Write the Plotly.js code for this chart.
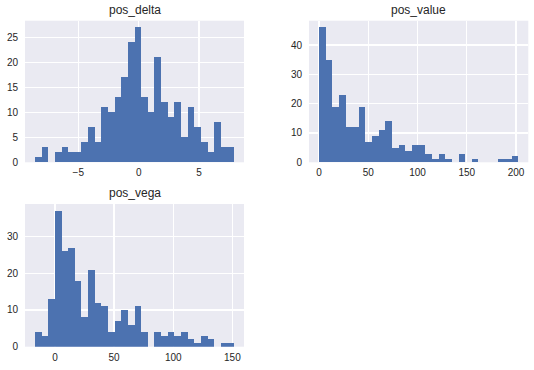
<!DOCTYPE html>
<html>
<head>
<meta charset="utf-8">
<script src="https://cdn.plot.ly/plotly-3.0.1.min.js"></script>
<style>html,body{margin:0;padding:0;background:#fff;}#chart{width:534px;height:370px;}</style>
</head>
<body>
<div id="chart"></div>
<script>
// Histogram counts (30 bins each)
const deltaCounts = [1, 3, 0, 2, 3, 2, 2, 4, 7, 4, 11, 10, 13, 17, 24, 27, 13, 10, 21, 12, 9, 12, 5, 11, 7, 4, 2, 8, 3, 3];
const valueCounts = [46, 35, 19, 23, 12, 12, 19, 7, 9, 11, 14, 5, 6, 4, 6, 6, 3, 1, 3, 1, 0, 3, 0, 1, 0, 0, 0, 1, 1, 2];
const vegaCounts  = [4, 3, 13, 37, 26, 27, 18, 8, 21, 12, 11, 4, 7, 10, 6, 11, 4, 0, 4, 3, 4, 3, 4, 2, 1, 3, 2, 0, 1, 1];
// data extent (min, max) of each column
const deltaExtent = [-8.59, 7.90];
const valueExtent = [0.0, 202.3];
const vegaExtent  = [-16.9, 151.4];
const titles = ["pos_delta", "pos_value", "pos_vega"];
const deltaTicks = [-5, 0, 5];
const valueTicks = [0, 50, 100, 150, 200];
const vegaTicks  = [0, 50, 100, 150];
const deltaYTicks = [0, 5, 10, 15, 20, 25];
const valueYTicks = [0, 10, 20, 30, 40];
const vegaYTicks  = [0, 10, 20, 30];

function binTrace(counts, ext, xa, ya) {
  const n = counts.length, w = (ext[1] - ext[0]) / n;
  const centers = counts.map((_, i) => ext[0] + (i + 0.5) * w);
  return {type: 'bar', x: centers, y: counts, width: w, xaxis: xa, yaxis: ya,
          marker: {color: '#4C72B0', line: {width: 0}}, hoverinfo: 'x+y', showlegend: false};
}
function pad(ext) { const s = (ext[1] - ext[0]) * 0.05; return [ext[0] - s, ext[1] + s]; }

const data = [
  binTrace(deltaCounts, deltaExtent, 'x', 'y'),
  binTrace(valueCounts, valueExtent, 'x2', 'y2'),
  binTrace(vegaCounts, vegaExtent, 'x3', 'y3')
];
const tickFont = {family: 'Liberation Sans, Arial, sans-serif', size: 10, color: '#262626'};
function xax(dom, anchor, ext, ticks) {
  return {domain: dom, anchor: anchor, range: pad(ext), tickvals: ticks, ticktext: ticks.map(t => t < 0 ? '\u2212' + Math.abs(t) : String(t)),
          showgrid: true, gridcolor: '#ffffff', gridwidth: 1.2, zeroline: false, showline: false,
          ticks: '', tickfont: tickFont, ticklabelstandoff: 3, fixedrange: true};
}
function yax(dom, anchor, counts, ticks) {
  const m = Math.max(...counts);
  return {domain: dom, anchor: anchor, range: [0, m * 1.05], tickvals: ticks,
          showgrid: true, gridcolor: '#ffffff', gridwidth: 1.2, zeroline: false, showline: false,
          ticks: '', tickfont: tickFont, ticklabelstandoff: 6, fixedrange: true};
}
const W = 534, H = 370;
const dL = [25 / W, 244 / W], dR = [309 / W, 528.3 / W];
const dTop = [(H - 162.3) / H, (H - 20.7) / H], dBot = [(H - 346.7) / H, (H - 204) / H];
const titleFont = {family: 'Liberation Sans, Arial, sans-serif', size: 12, color: '#262626'};
function ann(text, dx, dy) {
  return {text: text, xref: 'paper', yref: 'paper', x: (dx[0] + dx[1]) / 2, y: dy[1],
          xanchor: 'center', yanchor: 'bottom', yshift: 2, showarrow: false, font: titleFont};
}
const layout = {
  width: W, height: H, margin: {l: 0, r: 0, t: 0, b: 0},
  paper_bgcolor: '#ffffff', plot_bgcolor: '#EAEAF2',
  xaxis: xax(dL, 'y', deltaExtent, deltaTicks), yaxis: yax(dTop, 'x', deltaCounts, deltaYTicks),
  xaxis2: xax(dR, 'y2', valueExtent, valueTicks), yaxis2: yax(dTop, 'x2', valueCounts, valueYTicks),
  xaxis3: xax(dL, 'y3', vegaExtent, vegaTicks), yaxis3: yax(dBot, 'x3', vegaCounts, vegaYTicks),
  annotations: [ann(titles[0], dL, dTop), ann(titles[1], dR, dTop), ann(titles[2], dL, dBot)],
  bargap: 0
};
Plotly.newPlot('chart', data, layout, {displayModeBar: false, staticPlot: true});
</script>
</body>
</html>
